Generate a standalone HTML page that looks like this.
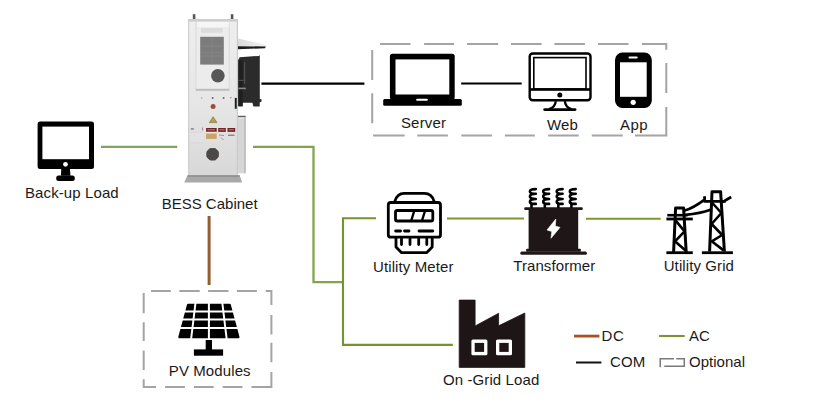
<!DOCTYPE html>
<html><head><meta charset="utf-8">
<style>
html,body{margin:0;padding:0;background:#fff;width:826px;height:412px;overflow:hidden}
svg{position:absolute;left:0;top:0}
text{font-family:"Liberation Sans",sans-serif;font-size:15px;fill:#1a1a1a;letter-spacing:0.1px}
</style></head><body>
<svg width="826" height="412" viewBox="0 0 826 412">
<rect width="826" height="412" fill="#fff"/>
<defs>
<linearGradient id="body" x1="0" y1="0" x2="0" y2="1">
<stop offset="0" stop-color="#e8e8e8"/><stop offset="1" stop-color="#d2d2d2"/>
</linearGradient>
</defs>

<!-- ===== lines ===== -->
<g fill="none" stroke-linecap="butt" stroke-linejoin="miter">
<path d="M100.9 146.9H177.2" stroke="#80a55e" stroke-width="2.3"/>
<path d="M253 146.9H313.5V282.1H343" stroke="#84a44c" stroke-width="2.3"/>
<path d="M376 218.2H343V344.9H452.8" stroke="#749430" stroke-width="2.1"/>
<path d="M447 218.5H524" stroke="#7a9a30" stroke-width="2.1"/>
<path d="M586 218.8H660.7" stroke="#7a9a30" stroke-width="2.1"/>
<path d="M261.4 83.6H364.4" stroke="#000" stroke-width="2.1"/>
<path d="M461.2 83.5H521.7" stroke="#000" stroke-width="2.1"/>
<path d="M209.1 216V285" stroke="#935e30" stroke-width="3"/>
<path d="M574 336.1H599.4" stroke="#a9521e" stroke-width="2.8"/>
<path d="M659 336H684.7" stroke="#7b9432" stroke-width="2.1"/>
<path d="M576 362.5H601.4" stroke="#111" stroke-width="2"/>
<path d="M660.2 367.3V358.7H674M676.3 358.7H684.3V366.2H664.2" stroke="#7a7a7a" stroke-width="1.5"/>
</g>

<!-- ===== dashed boxes ===== -->
<g fill="none" stroke="#a4a4a4" stroke-width="2">
<path d="M380.1 44H410.5M424.1 44H454.1M467.1 44H498.1M511 44H541.6M554.4 44H584.9M598 44H628.5M641.9 44H666.3V49.7M666.3 63V93M666.3 107V135.4H635M622.7 135.4H591.8M578.7 135.4H548.2M534.8 135.4H504.9M491.9 135.4H461.3M447.9 135.4H417.3M404.7 135.4H373.1M372.2 123.2V93.3M372.2 80V50"/>
<path d="M151 291.1H170.8M179.3 291.1H199.7M208.1 291.1H228.5M236.9 291.1H256.9M265.8 291.1H271.4V305M271.4 314.9V334.4M271.4 342.8V362.3M271.4 372V386.9H251.5M242.5 386.9H222.7M213.7 386.9H193.9M184.9 386.9H165.1M156.1 386.9H143.7V379.3M143.7 370V350.4M143.7 341V322.3M143.7 313.2V293.1"/>
</g>



<!-- ===== BESS cabinet ===== -->
<defs>
<linearGradient id="cabBody" x1="0" y1="0" x2="0" y2="1">
<stop offset="0" stop-color="#eeeeee"/><stop offset="0.55" stop-color="#e6e6e6"/><stop offset="1" stop-color="#d8d8d8"/>
</linearGradient>
<linearGradient id="cabSide" x1="0" y1="0" x2="1" y2="0">
<stop offset="0" stop-color="#d9d9d9"/><stop offset="0.15" stop-color="#e6e6e6"/><stop offset="0.85" stop-color="#e2e2e2"/><stop offset="1" stop-color="#cfcfcf"/>
</linearGradient>
<linearGradient id="awn" x1="0" y1="0" x2="1" y2="0">
<stop offset="0" stop-color="#dadada"/><stop offset="1" stop-color="#f4f4f4"/>
</linearGradient>
</defs>
<!-- bolts -->
<rect x="192.8" y="14.2" width="2.6" height="5" fill="#5a5550"/>
<rect x="230.8" y="14.2" width="2.6" height="5" fill="#5a5550"/>
<!-- awning -->
<path d="M238 38.6L266.6 44.6L266 46.8L238 46.6Z" fill="url(#awn)"/>
<path d="M238 46.2L265.8 46.5L265 48.3L238 49.2Z" fill="#1c1c1c"/>
<!-- door -->
<path d="M238.3 59.8L239.7 57.3L259.1 55.9L259.8 54.6V99L261.5 99.2V101.5L259.7 102.5V106.4H253.4L252.4 102.7H242.7V106.4H238.3Z" fill="#2b2b2b"/>
<rect x="238.3" y="60" width="4.3" height="46" fill="#1f1f1f"/>
<rect x="244.2" y="62" width="1" height="22" fill="#555"/>
<rect x="238.3" y="79.8" width="7.2" height="1.2" fill="#4a4a4a"/>
<rect x="238.3" y="87.6" width="7.5" height="1.6" fill="#8a8a8a"/>
<!-- body -->
<rect x="188" y="19" width="50" height="156.5" fill="url(#cabBody)"/>
<rect x="188" y="19" width="1.2" height="156.5" fill="#cfcfcf"/>
<rect x="236.8" y="19" width="1.2" height="156.5" fill="#cacaca"/>
<rect x="188" y="19" width="50" height="2.6" fill="#cdcdcd"/>
<!-- AC unit -->
<rect x="196" y="21.6" width="33.2" height="67.8" fill="#ececec"/>
<rect x="196" y="21.6" width="33.2" height="67.8" fill="none" stroke="#d6d6d6" stroke-width="0.8"/>
<rect x="197" y="21.8" width="31.6" height="5.4" fill="#f6f6f6"/>
<rect x="201" y="28" width="21.6" height="4.8" fill="#dcdcdc"/>
<rect x="200.2" y="36.8" width="23.6" height="27.8" fill="#7c7c7c"/>
<path d="M211.8 37V64.5M200.5 46H224M200.5 52.5H224M200.5 56H224" stroke="#8a8a8a" stroke-width="0.6"/>
<circle cx="217.9" cy="75.7" r="6.8" fill="#575757"/>
<rect x="195.9" y="88.8" width="33.5" height="2" fill="#bdbdbd"/>
<!-- dots -->
<circle cx="201.7" cy="98.1" r="0.8" fill="#b0a8a0"/>
<circle cx="212.7" cy="98.1" r="1" fill="#6a6a6a"/>
<circle cx="223.6" cy="98.1" r="1" fill="#9a5a4a"/>
<circle cx="230.9" cy="97.8" r="0.7" fill="#9a7a6a"/>
<circle cx="213.1" cy="106.6" r="2.5" fill="#9b4f3a"/>
<rect x="234.8" y="97.9" width="1.9" height="10.9" fill="#1a1a1a"/>
<!-- triangle -->
<path d="M213.1 116.7L217 122.6H209.3Z" fill="#b8a23c" stroke="#6a5a30" stroke-width="0.5"/>
<!-- labels -->
<rect x="206.1" y="128" width="10.6" height="3.9" fill="#742424"/>
<rect x="218.2" y="128" width="7.6" height="3.9" fill="#742424"/>
<rect x="227.5" y="128" width="7.7" height="3.9" fill="#742424"/>
<path d="M207.5 129.8H215M219.5 129.8H224.5M228.8 129.8H233.8" stroke="#e0c0c0" stroke-width="0.6"/>
<rect x="206.1" y="131.9" width="10.6" height="7" fill="#c9a46a"/>
<rect x="206.1" y="131.9" width="10.6" height="1.6" fill="#f0e8e0"/>
<path d="M219 135L224 135.5M221 137.5L223.5 140" stroke="#b07070" stroke-width="0.8"/>
<path d="M228 135.2H234.5" stroke="#555" stroke-width="0.9"/>
<rect x="190.8" y="132" width="13" height="10.5" fill="#e2e2e2"/><path d="M191 132.3H203M191 142.8H203" stroke="#d0d0d0" stroke-width="0.6"/>
<rect x="190.8" y="128.5" width="3" height="0.9" fill="#444"/>
<rect x="202" y="127.5" width="1" height="3" fill="#a88"/>
<!-- octagon -->
<circle cx="212.6" cy="154.3" r="6.2" fill="#8a8888"/><path d="M210 148.6H215.2L218.3 151.6V157L215.2 160H210L206.9 157V151.6Z" fill="#4b4848" stroke="#4b4848" stroke-width="0.8" stroke-linejoin="round"/>
<!-- side panel -->
<rect x="238" y="115.8" width="7.6" height="57.5" fill="#d6d6d6"/>
<rect x="238" y="115.8" width="7.6" height="1.6" fill="#5e5e5e"/><rect x="238" y="117.4" width="7.6" height="1" fill="#f2f2f2"/>
<rect x="244.4" y="117" width="1.2" height="56.3" fill="#b0b0b0"/>
<!-- base -->
<path d="M187.6 175.3H239.6L242.2 182.6H184.2Z" fill="#a9a9a9"/>
<rect x="187.6" y="175.3" width="52" height="1.4" fill="#8a8a8a"/>

<!-- ===== icons ===== -->
<!-- backup monitor -->
<g fill="#000">
<rect x="37.6" y="121.5" width="56.4" height="47.4" rx="2.5"/>
<path d="M61.3 168.5H70L70.4 175.8H60.9Z"/>
<rect x="56.2" y="175.6" width="18.6" height="5.3" rx="2.5"/>
</g>
<rect x="42.4" y="126.6" width="46.6" height="32.6" fill="#fff"/>
<circle cx="65.5" cy="164.3" r="2.4" fill="#fff"/>

<!-- laptop -->
<g fill="#000">
<rect x="389.9" y="53.8" width="64.8" height="46" rx="2.5"/>
<rect x="383.2" y="99.1" width="78.6" height="6.6" rx="1.5"/>
</g>
<rect x="395.5" y="59.4" width="53.8" height="35.1" fill="#fff"/>
<rect x="416.1" y="98.7" width="11.8" height="2.1" rx="1" fill="#fff"/>

<!-- iMac -->
<g fill="none" stroke="#000">
<rect x="529.7" y="53.5" width="60.8" height="46.8" rx="3" stroke-width="2.4"/>
<rect x="533.8" y="57.6" width="52.2" height="31.4" stroke-width="1.6"/>
</g>
<rect x="530" y="88.2" width="60" height="2.6" fill="#000"/>
<circle cx="559.8" cy="95.1" r="2.5" fill="#000"/>
<path d="M555.8 101.2C555.5 104.8 553.5 107.8 549 109.2M564.8 101.2C565.1 104.8 567 107.8 571.5 109.2" fill="none" stroke="#000" stroke-width="2.3"/>
<rect x="543.3" y="108.2" width="33.1" height="2.7" rx="1.3" fill="#000"/>

<!-- phone -->
<rect x="615" y="52.6" width="36.8" height="55.3" rx="7.5" fill="#000"/>
<rect x="620" y="62.3" width="26.7" height="34.5" fill="#fff"/>
<rect x="628.5" y="56.6" width="9.2" height="2" rx="1" fill="#fff"/>
<circle cx="633.2" cy="102.3" r="2.6" fill="#fff"/>

<!-- utility meter -->
<g fill="none" stroke="#000" stroke-width="2.8" stroke-linejoin="round" stroke-linecap="round">
<rect x="388.3" y="202.5" width="52.2" height="34.7" rx="2.5"/>
<path d="M394.9 201.2C396.5 196 399 193.4 404 193.4H424.5C430 193.4 432.5 196 434 201.2"/>
<rect x="395.5" y="210.5" width="37.3" height="10.5" rx="1.8"/>
<path d="M411.3 220.5L414.2 211M422 220.5L425 211" stroke-width="2.4" stroke-linecap="butt"/>
<path d="M395.6 231H400.6M404.5 231H409M419 231H432.8"/>
<path d="M396 238.5V247L401.6 252.7H426.6L432.2 247V238.5"/>
<path d="M401.5 239V244.5M410 239V244.5M418.7 239V244.5M426.8 239V244.5"/>
</g>

<!-- transformer -->
<g fill="#1f1717">
<rect x="528.6" y="208.5" width="49.6" height="41"/>
<rect x="524.2" y="207.2" width="58.6" height="2.8" rx="1.2"/>
<rect x="526.1" y="248.8" width="54.8" height="3" rx="1"/>
<rect x="520.3" y="251.6" width="66.6" height="3.1" rx="1.5"/>
</g>
<path d="M555.8 219L555.3 226L560 227.4L551 238.3L551.8 231.5L547 230Z" fill="#fff" stroke="#fff" stroke-width="0.6" stroke-linejoin="round"/>
<g fill="none" stroke="#000" stroke-width="2.6" stroke-linecap="round" stroke-linejoin="round">
<path d="M535.8 189.1C531.0 189.1 529.9 190.1 529.9 191.4C529.9 192.7 531.2 193.7 535.8 193.7C531.0 193.7 529.9 195.3 529.9 196.6C529.9 197.9 531.2 199 535.8 199C531.0 199 529.9 200.6 529.9 201.9C529.9 203.2 531.2 203.9 535.8 203.9M531.5 203.5V207"/>
<path d="M549.1 189.1C544.3 189.1 543.2 190.1 543.2 191.4C543.2 192.7 544.5 193.7 549.1 193.7C544.3 193.7 543.2 195.3 543.2 196.6C543.2 197.9 544.5 199 549.1 199C544.3 199 543.2 200.6 543.2 201.9C543.2 203.2 544.5 203.9 549.1 203.9M544.8 203.5V207"/>
<path d="M562.6 189.1C557.8 189.1 556.7 190.1 556.7 191.4C556.7 192.7 558.0 193.7 562.6 193.7C557.8 193.7 556.7 195.3 556.7 196.6C556.7 197.9 558.0 199 562.6 199C557.8 199 556.7 200.6 556.7 201.9C556.7 203.2 558.0 203.9 562.6 203.9M558.3 203.5V207"/>
<path d="M575.7 189.1C570.9 189.1 569.8 190.1 569.8 191.4C569.8 192.7 571.1 193.7 575.7 193.7C570.9 193.7 569.8 195.3 569.8 196.6C569.8 197.9 571.1 199 575.7 199C570.9 199 569.8 200.6 569.8 201.9C569.8 203.2 571.1 203.9 575.7 203.9M571.4 203.5V207"/>
</g>

<!-- utility grid -->
<g fill="none" stroke="#000" stroke-width="3" stroke-linecap="butt" stroke-linejoin="round">
<path d="M673.6 252L675.6 208H683.6L686.2 252"/>
<path d="M667.3 215.2H687.5" stroke-width="2.6"/>
<path d="M666.4 219H692.8" stroke-width="2.8"/>
<path d="M675.5 220.3L684.6 231.3L675 241.3L685.5 250.4" stroke-width="2.6"/>
<path d="M666.4 252.7H692.8" stroke-width="2.8"/>
<path d="M709.6 251.5L712 191.7H720.6L724.4 251.5"/>
<path d="M704.6 196.2V201.4H725.8M722 202.4L731.2 197" stroke-width="2.8"/>
<path d="M711.5 202L721.4 213L711.6 224L722.2 235L711.7 241.3L723.6 250.4" stroke-width="2.6"/>
<path d="M701.9 252.7H732.9" stroke-width="2.8"/>
<path d="M684.6 210.6C692 208.5 698 204.5 704.6 199.6" stroke-width="2.6"/>
<path d="M685.5 214.9C695 214 703 212.5 710.5 209.8" stroke-width="2.6"/>
</g>

<!-- factory -->
<path d="M459.2 300.1H475.1V326L498.6 313.3V325.8L524.8 313V367.4H459.2Z" fill="#1e1616" stroke="#1e1616" stroke-width="0.8" stroke-linejoin="round"/>
<g fill="#fff">
<rect x="471.4" y="339.6" width="16" height="15.6" rx="1.5"/>
<rect x="496" y="339.6" width="16" height="15.6" rx="1.5"/>
</g>
<g fill="#1e1616">
<rect x="474.7" y="342.9" width="9.4" height="9"/>
<rect x="499.3" y="342.9" width="9.4" height="9"/>
</g>

<!-- solar panel -->
<g fill="#000">
<path d="M188.2 305H229.6L238.2 337.2H179.6Z" stroke="#000" stroke-width="2.6" stroke-linejoin="round"/>
<rect x="205.7" y="340" width="6.3" height="10.5"/>
<rect x="193.9" y="349.4" width="29.2" height="6.3"/>
</g>
<g stroke="#fff" stroke-width="2" fill="none">
<path d="M176 311.4H242M176 319.4H242M176 328.1H242"/>
<path d="M195.6 302L191 340M208.9 302V340M222.2 302L226.8 340"/>
<path d="M176 339.2H242" stroke-width="1.4"/>
</g>

<!-- ===== text ===== -->
<text x="25" y="197.8">Back-up Load</text>
<text x="161.7" y="209.2" style="letter-spacing:0">BESS Cabinet</text>
<text x="400.9" y="128.1" style="letter-spacing:0.2px">Server</text>
<text x="547" y="130.2">Web</text>
<text x="620" y="129.7" style="letter-spacing:0.4px">App</text>
<text x="373" y="271.7">Utility Meter</text>
<text x="513.2" y="270.7">Transformer</text>
<text x="663.7" y="270.8">Utility Grid</text>
<text x="168.8" y="375.7">PV Modules</text>
<text x="443" y="385">On -Grid Load</text>
<text x="601.4" y="340.6" style="letter-spacing:0.8px">DC</text>
<text x="610" y="367.4">COM</text>
<text x="689" y="341">AC</text>
<text x="689.1" y="367.3" style="letter-spacing:0">Optional</text>
</svg>
</body></html>
